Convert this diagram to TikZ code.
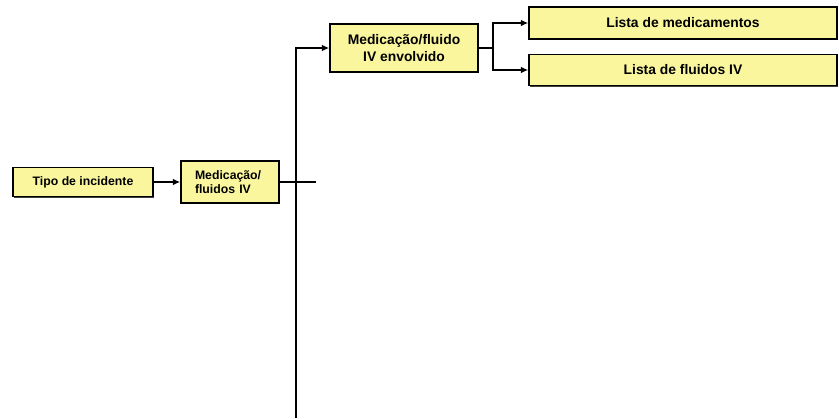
\documentclass[tikz,border=0pt]{standalone}
\usepackage{fontspec}
\setmainfont{Liberation Sans}
\usetikzlibrary{arrows.meta,shadows}

\definecolor{boxyellow}{RGB}{250,246,158}

\tikzset{
  itembox/.style={draw=black,line width=1.1pt,fill=boxyellow,inner sep=2pt,
    font=\fontsize{9.2}{10.6}\selectfont\bfseries,
    drop shadow={shadow xshift=0.9pt,shadow yshift=-0.9pt,fill=black!75,opacity=1}},
  bigtext/.style={font=\fontsize{10.4}{12.4}\selectfont\bfseries},
  link/.style={line width=1.1pt},
  linkarrow/.style={line width=1.1pt,-{Latex[length=5.5pt,width=5pt]}}
}

\begin{document}
\begin{tikzpicture}[x=0.75pt,y=-0.75pt]
\path[use as bounding box] (0,0) rectangle (839,418);
\node[itembox,minimum width=140*0.75pt,minimum height=29*0.75pt] (tipo) at (83,182) {Tipo de incidente\hspace{9pt}};
\node[itembox,minimum width=98*0.75pt,minimum height=42*0.75pt,align=left,text width=70*0.75pt] (medflu) at (230,182) {Medicação/\\fluidos IV};
\node[itembox,bigtext,minimum width=148*0.75pt,minimum height=48*0.75pt,align=center] (envolv) at (404,48) {Medicação/fluido\\IV envolvido};
\node[itembox,bigtext,minimum width=308*0.75pt,minimum height=32*0.75pt] (listmed) at (683,23) {Lista de medicamentos};
\node[itembox,bigtext,minimum width=308*0.75pt,minimum height=31*0.75pt] (listflu) at (683,70) {Lista de fluidos IV};
\coordinate (stub) at (316,182);
\coordinate (trunk) at (296,418);
\coordinate (split) at (493,48);
\draw[linkarrow] (tipo) -- (medflu);
\draw[link] (medflu) -- (stub);
\draw[linkarrow] (trunk) |- (envolv);
\draw[link] (envolv) -- (split);
\draw[linkarrow] (split) |- (listmed);
\draw[linkarrow] (split) |- (listflu);
\end{tikzpicture}
\end{document}
